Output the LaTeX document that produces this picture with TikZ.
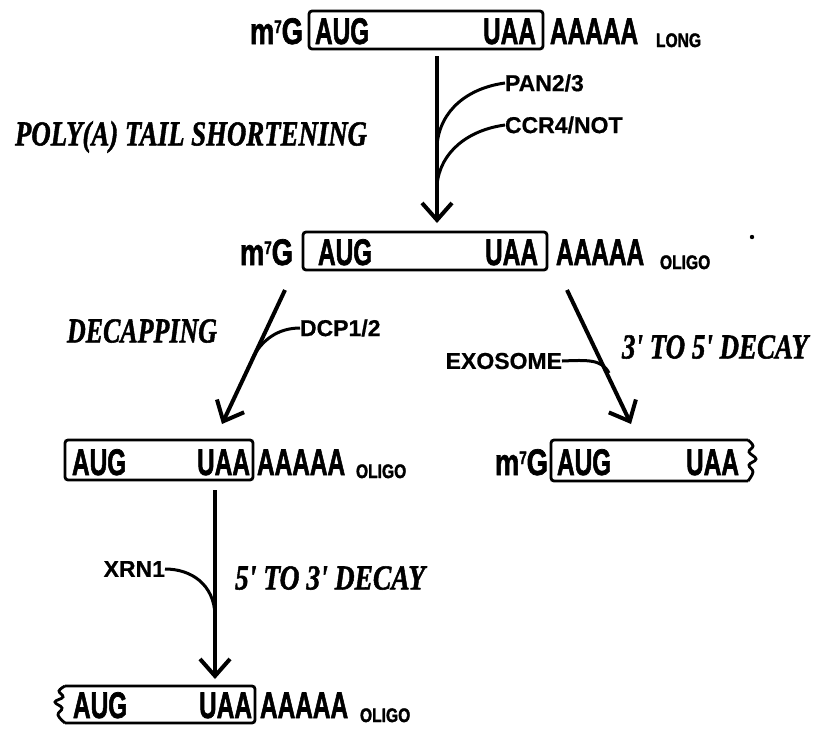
\documentclass[tikz,border=0pt]{standalone}
\usepackage{fontspec}
\usetikzlibrary{arrows.meta}
\newfontfamily\seqfont{Liberation Sans Bold}[FakeBold=2]
\newfontfamily\enzfont{Liberation Sans Bold}[FakeBold=0.6]
\newfontfamily\labfont{Liberation Serif Bold Italic}[FakeBold=1.5]
\newcommand{\sqtxt}[1]{\scalebox{0.66}[1]{\seqfont\fontsize{37}{37}\selectfont #1}}
\newcommand{\mseven}{\scalebox{0.74}[1]{\seqfont\fontsize{37}{37}\selectfont m\raisebox{11pt}{\fontsize{18}{18}\selectfont 7}G}}
\newcommand{\subtxt}[1]{\scalebox{0.8}[1]{\seqfont\fontsize{19.5}{19.5}\selectfont #1}}
\newcommand{\ittxt}[2]{\resizebox{#1}{\height}{\labfont\fontsize{35}{35}\selectfont #2}}
\newcommand{\enz}[1]{{\enzfont\fontsize{23}{23}\selectfont #1}}
\begin{document}
\begin{tikzpicture}[x=1pt,y=-1pt,
  txt/.style={inner sep=0pt, outer sep=0pt},
  rbox/.style={draw, line width=2.8pt, rounded corners=3pt, inner sep=0pt, outer sep=0pt},
  hbox/.style={inner sep=0pt, outer sep=0pt},
  boxline/.style={line width=2.8pt},
  arr/.style={line width=4pt, -{Straight Barb[length=17pt,width=30pt]}},
  enzl/.style={line width=3pt}]
\useasboundingbox (0,0) rectangle (817,732);

% ---------- Row 1 ----------
\node[rbox, minimum width=234pt, minimum height=38pt] (box1) at (426,30) {};
\node[txt, anchor=base east] (cap1) at (303,44) {\mseven};
\node[txt, anchor=base west] (aug1) at (315,44) {\sqtxt{AUG}};
\node[txt, anchor=base east] (uaa1) at (536,44) {\sqtxt{UAA}};
\node[txt, anchor=base west] (pa1) at (550,44) {\sqtxt{AAAAA}};
\node[txt, anchor=base west] (long1) at (656,47) {\subtxt{LONG}};

% ---------- Row 2 ----------
\node[rbox, minimum width=244pt, minimum height=38pt] (box2) at (425,251) {};
\node[txt, anchor=base east] (cap2) at (293,265) {\mseven};
\node[txt, anchor=base west] (aug2) at (318,265) {\sqtxt{AUG}};
\node[txt, anchor=base east] (uaa2) at (538,265) {\sqtxt{UAA}};
\node[txt, anchor=base west] (pa2) at (556,265) {\sqtxt{AAAAA}};
\node[txt, anchor=base west] (oligo2) at (660,269) {\subtxt{OLIGO}};
\fill (752,237) circle (2.2pt);

% arrow 1
\coordinate (a1s) at (437,56);
\coordinate (a1e) at (437,223);
\draw[arr] (a1s) -- (a1e);
\node[txt, anchor=west] (pan) at (505,83) {\enz{PAN2/3}};
\node[txt, anchor=west] (ccr) at (505,125) {\enz{CCR4/NOT}};
\coordinate (j1) at (437,145);
\coordinate (j2) at (437,185);
\draw[enzl] (pan.west) .. controls (468,88) and (440,110) .. (j1);
\draw[enzl] (ccr.west) .. controls (468,130) and (440,152) .. (j2);
\node[txt, anchor=west] (poly) at (15,137) {\ittxt{352pt}{POLY(A) TAIL SHORTENING}};

% ---------- Decapping branch ----------
\coordinate (b1s) at (285,290);
\coordinate (b1e) at (222,424);
\draw[arr] (b1s) -- (b1e);
\node[txt, anchor=west] (dcp) at (300,328) {\enz{DCP1/2}};
\coordinate (j3) at (252,359);
\draw[enzl] (dcp.west) .. controls (277,328) and (261,341) .. (j3);
\node[txt, anchor=west] (decap) at (67,331) {\ittxt{150pt}{DECAPPING}};

% ---------- 3' to 5' branch ----------
\coordinate (c1s) at (567,290);
\coordinate (c1e) at (631,424);
\draw[arr] (c1s) -- (c1e);
\node[txt, anchor=east] (exo) at (562,361) {\enz{EXOSOME}};
\coordinate (j4) at (609,373);
\draw[enzl] (exo.east) .. controls (587,360) and (602,359) .. (j4);
\node[txt, anchor=west] (d35) at (622,347) {\ittxt{186pt}{3' TO 5' DECAY}};

% ---------- Row 3 left ----------
\node[rbox, minimum width=188pt, minimum height=40pt] (box3) at (159,460) {};
\node[txt, anchor=base west] (aug3) at (72,475) {\sqtxt{AUG}};
\node[txt, anchor=base east] (uaa3) at (250,475) {\sqtxt{UAA}};
\node[txt, anchor=base west] (pa3) at (257,475) {\sqtxt{AAAAA}};
\node[txt, anchor=base west] (oligo3) at (356,478) {\subtxt{OLIGO}};

% ---------- Row 3 right ----------
\node[hbox, minimum width=197pt, minimum height=41pt] (box4) at (649.5,460.5) {};
\draw[boxline, rounded corners=3pt] (box4.north east) -- (box4.north west) -- (box4.south west) -- (box4.south east);
\draw[boxline] plot[smooth, tension=0.7] coordinates {(748,440) (753,446) (749,452) (756,459) (749,465) (753,472) (748,481)};
\node[txt, anchor=base east] (cap4) at (548,475) {\mseven};
\node[txt, anchor=base west] (aug4) at (557,475) {\sqtxt{AUG}};
\node[txt, anchor=base east] (uaa4) at (739,475) {\sqtxt{UAA}};

% ---------- 5' to 3' branch ----------
\coordinate (d1s) at (215,490);
\coordinate (d1e) at (215,679);
\draw[arr] (d1s) -- (d1e);
\node[txt, anchor=east] (xrn) at (165,569) {\enz{XRN1}};
\coordinate (j5) at (215,615);
\draw[enzl] (xrn.east) .. controls (192,569) and (214,585) .. (j5);
\node[txt, anchor=west] (d53) at (235,578) {\ittxt{190pt}{5' TO 3' DECAY}};

% ---------- Row 4 ----------
\node[hbox, minimum width=190pt, minimum height=37pt] (box5) at (160,704.5) {};
\draw[boxline, rounded corners=3pt] (box5.north west) -- (box5.north east) -- (box5.south east) -- (box5.south west);
\draw[boxline] plot[smooth, tension=0.7] coordinates {(65,686) (59,691) (63,697) (55,702) (62,708) (58,715) (65,723)};
\node[txt, anchor=base west] (aug5) at (73,718) {\sqtxt{AUG}};
\node[txt, anchor=base east] (uaa5) at (252,718) {\sqtxt{UAA}};
\node[txt, anchor=base west] (pa5) at (260,718) {\sqtxt{AAAAA}};
\node[txt, anchor=base west] (oligo5) at (360,722) {\subtxt{OLIGO}};
\end{tikzpicture}
\end{document}
